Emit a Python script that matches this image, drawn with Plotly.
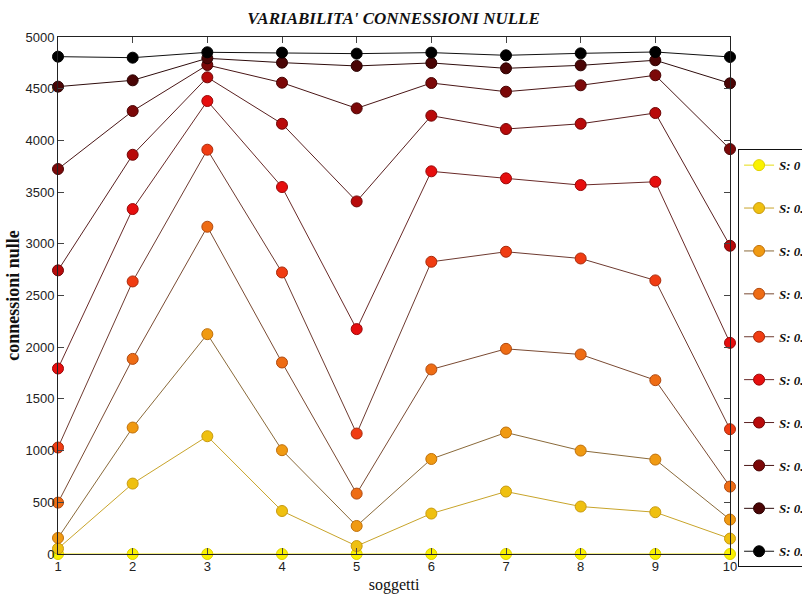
import plotly.graph_objects as go

soggetti = [1, 2, 3, 4, 5, 6, 7, 8, 9, 10]
series_names = ["S: 0", "S: 0.1", "S: 0.2", "S: 0.3", "S: 0.4",
                "S: 0.5", "S: 0.6", "S: 0.7", "S: 0.8", "S: 0.9"]

s_00 = [0, 0, 0, 0, 0, 0, 0, 0, 0, 0]
s_01 = [52, 681, 1139, 416, 77, 391, 604, 459, 404, 149]
s_02 = [155, 1223, 2126, 1004, 271, 919, 1175, 1000, 913, 333]
s_03 = [497, 1887, 3165, 1852, 584, 1785, 1984, 1930, 1681, 652]
s_04 = [1030, 2636, 3910, 2723, 1165, 2826, 2923, 2858, 2646, 1207]
s_05 = [1794, 3336, 4381, 3549, 2175, 3701, 3633, 3568, 3600, 2042]
s_06 = [2743, 3861, 4610, 4161, 3410, 4239, 4110, 4161, 4265, 2981]
s_07 = [3723, 4284, 4729, 4558, 4310, 4555, 4471, 4533, 4630, 3916]
s_08 = [4520, 4581, 4794, 4752, 4720, 4749, 4697, 4726, 4775, 4552]
s_09 = [4810, 4800, 4852, 4849, 4839, 4849, 4823, 4842, 4855, 4807]
all_series = [s_00, s_01, s_02, s_03, s_04, s_05, s_06, s_07, s_08, s_09]

marker_colors = ["#FAF200", "#EFC010", "#F09A12", "#EE6C14", "#F03C12",
                 "#E60E0E", "#B80A0A", "#7C0808", "#4A0505", "#000000"]
line_colors = ["#E6DC10", "#C8A42A", "#8A6A3A", "#7A4A32", "#6E3A30",
               "#6A2A28", "#5A2020", "#4A1616", "#2E0C0C", "#101010"]
edge_colors = ["#E0D000", "#C89A10", "#C0700A", "#B04A10", "#A82A0A",
               "#9A0808", "#700606", "#4A0404", "#2A0202", "#000000"]

fig = go.Figure()
for name, vals, mc, lc, ec in zip(series_names, all_series, marker_colors, line_colors, edge_colors):
    fig.add_trace(go.Scatter(
        x=soggetti, y=vals, name=name, mode="lines+markers",
        line=dict(color=lc, width=1),
        marker=dict(size=11, color=mc, line=dict(color=ec, width=1)),
        cliponaxis=False, legendgroup=name,
    ))

fig.update_layout(
    width=802, height=601,
    paper_bgcolor="white", plot_bgcolor="white",
    margin=dict(l=58, r=72, t=37, b=47, autoexpand=False),
    title=dict(text="VARIABILITA' CONNESSIONI NULLE",
               font=dict(family="Liberation Serif", size=17, color="#111",
                         style="italic", weight="bold"),
               x=0.4907, xanchor="center", y=0.97, yanchor="middle"),
    showlegend=True,
    legend=dict(x=1.012, xanchor="left", y=0.783, yanchor="top",
                bordercolor="#111", borderwidth=1, bgcolor="white",
                font=dict(family="Liberation Serif", size=13, color="#111",
                          style="italic", weight="bold"),
                tracegroupgap=23, itemwidth=30),
)
fig.update_xaxes(
    range=[1, 10], tickvals=soggetti, ticks="inside", ticklen=6,
    showline=True, linecolor="#222", linewidth=1, mirror="ticks",
    showgrid=False, zeroline=False,
    tickfont=dict(family="Liberation Sans Narrow, Liberation Sans", size=13, color="#222"),
    title=dict(text="soggetti", standoff=6,
               font=dict(family="Liberation Serif", size=16, color="#111")),
)
fig.update_yaxes(
    range=[0, 5000], tickvals=[0, 500, 1000, 1500, 2000, 2500, 3000, 3500, 4000, 4500, 5000],
    ticks="inside", ticklen=6,
    showline=True, linecolor="#222", linewidth=1, mirror="ticks",
    showgrid=False, zeroline=False,
    tickfont=dict(family="Liberation Sans Narrow, Liberation Sans", size=13, color="#222"),
    title=dict(text="connessioni nulle", standoff=1,
               font=dict(family="Liberation Serif", size=18, color="#111", weight="bold")),
)

fig.write_html("out.html", config={"displayModeBar": False},
               post_script="document.body.style.margin='0';document.body.style.overflow='hidden';")
